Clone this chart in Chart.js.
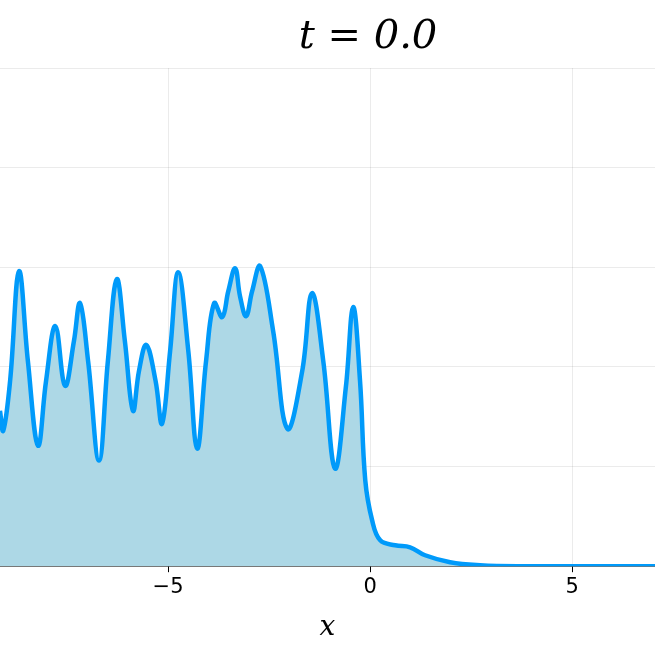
<!DOCTYPE html>
<html><head><meta charset="utf-8">
<script src="https://cdn.jsdelivr.net/npm/chart.js@4"></script>
<style>html,body{margin:0;padding:0;background:#fff}#w{width:655px;height:655px}</style>
</head><body><div id="w"><canvas id="c"></canvas></div>
<script>
const xs = [-9.16,-9.08,-8.91,-8.69,-8.47,-8.22,-8.02,-7.79,-7.55,-7.33,-7.18,-6.98,-6.71,-6.49,-6.27,-6.07,-5.87,-5.72,-5.54,-5.31,-5.15,-4.95,-4.75,-4.50,-4.28,-4.06,-3.86,-3.66,-3.51,-3.34,-3.22,-3.07,-2.92,-2.72,-2.40,-2.05,-1.68,-1.44,-1.16,-0.87,-0.60,-0.42,-0.25,-0.12,0.05,0.25,0.62,0.99,1.36,1.98,2.72,3.71,7.05];
const ys = [1.56,1.36,1.86,2.96,2.06,1.21,1.86,2.41,1.81,2.26,2.64,2.06,1.06,2.06,2.88,2.26,1.56,1.96,2.22,1.86,1.43,2.16,2.95,2.16,1.18,2.06,2.64,2.50,2.76,2.99,2.71,2.51,2.76,3.01,2.36,1.38,1.96,2.74,2.06,0.98,1.80,2.60,1.86,0.86,0.46,0.26,0.21,0.19,0.11,0.04,0.01,0.0,0.0];
const xTicks = [-5,0,5];
const yTicks = [0,1,2,3,4,5];
const titleText = 't = 0.0';
const titlePlugin = {id:'tp',afterDraw(c){const g=c.ctx;g.save();g.font='italic 40px "DejaVu Serif"';g.fillStyle='#000';g.textAlign='center';g.textBaseline='alphabetic';g.fillText(titleText,368,48);g.restore();}};
new Chart(document.getElementById('c'),{
 type:'line',
 data:{datasets:[{data:xs.map((x,i)=>({x,y:ys[i]})),borderColor:'#009AFA',borderWidth:4.5,backgroundColor:'#ADD8E6',fill:'origin',pointRadius:0,tension:0.4}]},
 plugins:[titlePlugin],
 options:{responsive:true,maintainAspectRatio:false,animation:false,
  layout:{padding:{left:0,right:0,top:68,bottom:10}},
  plugins:{legend:{display:false},tooltip:{enabled:false},title:{display:false}},
  scales:{
   x:{type:'linear',min:-9.16,max:7.05,afterBuildTicks:a=>{a.ticks=xTicks.map(v=>({value:v}))},
    ticks:{font:{family:'DejaVu Sans',size:21},color:'#000',callback:v=>String(v).replace('-','\u2212'),maxRotation:0},
    grid:{color:'rgba(0,0,0,0.08)',tickLength:6,tickColor:'#000'},border:{color:'#000',width:1.5},
    title:{display:true,text:'x',font:{family:'DejaVu Serif',style:'italic',size:28},color:'#000',padding:{top:8,bottom:0}}},
   y:{min:0,max:5,afterBuildTicks:a=>{a.ticks=yTicks.map(v=>({value:v}))},ticks:{display:false},
    grid:{color:'rgba(0,0,0,0.08)',drawTicks:false},border:{display:false}}
  }}
});
</script></body></html>
